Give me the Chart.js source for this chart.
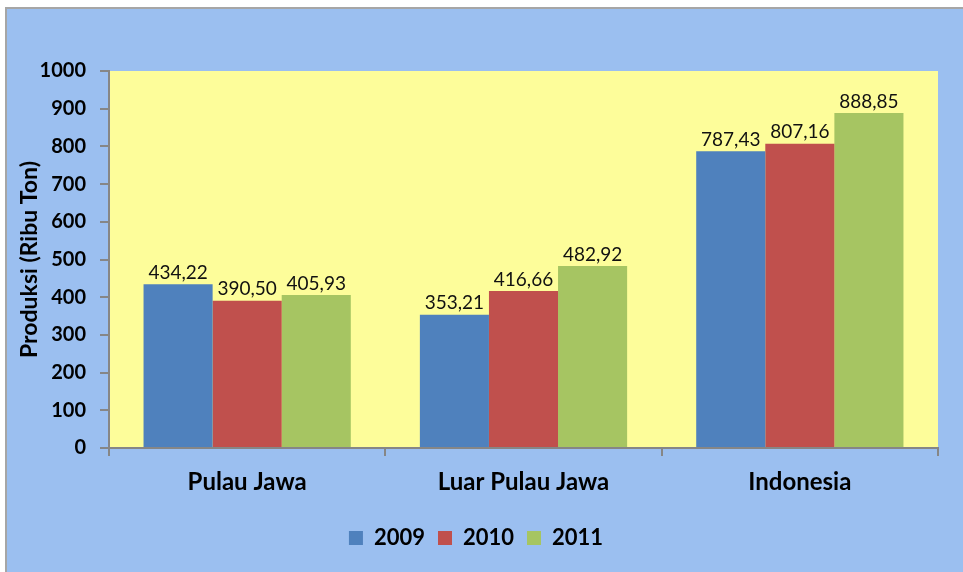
<!DOCTYPE html>
<html>
<head>
<meta charset="utf-8">
<script src="https://cdn.jsdelivr.net/npm/chart.js@4.4.1/dist/chart.umd.min.js"></script>
<style>
	html, body { margin: 0; padding: 0; background: #ffffff; }
	#wrap { position: relative; width: 963px; height: 572px; }
</style>
</head>
<body>
<div id="wrap"><canvas id="produksi" width="963" height="572"></canvas></div>
<script>
const regions = ['Pulau Jawa', 'Luar Pulau Jawa', 'Indonesia'];
const years = ['2009', '2010', '2011'];
const prod2009 = [434.22, 353.21, 787.43];
const prod2010 = [390.50, 416.66, 807.16];
const prod2011 = [405.93, 482.92, 888.85];
const yTicks = [0, 100, 200, 300, 400, 500, 600, 700, 800, 900, 1000];

const fontName = 'Lato, "Open Sans", sans-serif';
const axisGray = '#868686';

// blue background panel with its grey frame
const panelBg = {
	id: 'panelBg',
	beforeDraw: (chart) => {
		const ctx = chart.ctx;
		ctx.save();
		ctx.fillStyle = '#9BBFF0';
		ctx.fillRect(7, 9, chart.width - 7, chart.height - 9);
		ctx.strokeStyle = '#A6A6A6';
		ctx.lineWidth = 2;
		ctx.strokeRect(6, 8, chart.width + 10, chart.height + 10);
		const a = chart.chartArea;
		ctx.fillStyle = '#FDFD9A';
		ctx.fillRect(a.left, a.top, a.right - a.left, a.bottom - a.top);
		ctx.restore();
	},
};

// value labels on top of the bars, comma decimals
const barValues = {
	id: 'barValues',
	afterDatasetsDraw: (chart) => {
		const ctx = chart.ctx;
		ctx.save();
		ctx.font = '19px ' + fontName;
		ctx.fillStyle = '#111111';
		ctx.textAlign = 'center';
		ctx.textBaseline = 'bottom';
		chart.data.datasets.forEach((ds, i) => {
			chart.getDatasetMeta(i).data.forEach((bar, j) => {
				const txt = ds.data[j].toFixed(2).replace('.', ',');
				ctx.fillText(txt, bar.x, bar.y - 2);
			});
		});
		ctx.restore();
	},
};

const chart = new Chart(document.getElementById('produksi'), {
	type: 'bar',
	data: {
		labels: regions,
		datasets: [
			{ label: years[0], data: prod2009, backgroundColor: '#4F81BD' },
			{ label: years[1], data: prod2010, backgroundColor: '#C0504D' },
			{ label: years[2], data: prod2011, backgroundColor: '#A6C562' },
		],
	},
	options: {
		responsive: false,
		animation: false,
		layout: {
			padding: { left: 14, top: 71, right: 25, bottom: 13 },
		},
		datasets: {
			bar: {
				categoryPercentage: 0.75,
				barPercentage: 1.0,
				borderWidth: 0,
			},
		},
		scales: {
			x: {
				grid: {
					offset: true,
					drawOnChartArea: false,
					drawTicks: true,
					tickLength: 8,
					color: axisGray,
					lineWidth: 2,
				},
				border: { display: true, color: axisGray, width: 2 },
				ticks: {
					padding: 12,
					color: '#000000',
					font: { family: fontName, size: 24, weight: 'bold' },
				},
				afterFit: (scale) => {
					scale.height = 66;
				},
			},
			y: {
				min: 0,
				max: 1000,
				afterBuildTicks: (scale) => {
					scale.ticks = yTicks.map((v) => ({ value: v }));
				},
				grid: {
					drawOnChartArea: false,
					drawTicks: true,
					tickLength: 9,
					color: axisGray,
					lineWidth: 2,
				},
				border: { display: true, color: axisGray, width: 2 },
				ticks: {
					padding: 14,
					color: '#000000',
					callback: (v) => String(v),
					font: { family: fontName, size: 20, weight: 'bold' },
				},
				title: {
					display: true,
					text: 'Produksi (Ribu Ton)',
					color: '#000000',
					padding: { top: 2, bottom: 0 },
					font: { family: fontName, size: 23, weight: 'bold' },
				},
				afterFit: (scale) => {
					scale.width = 95;
				},
			},
		},
		plugins: {
			legend: {
				position: 'bottom',
				labels: {
					boxWidth: 14,
					boxHeight: 14,
					padding: 13,
					color: '#000000',
					font: { family: fontName, size: 22, weight: 'bold' },
				},
			},
			tooltip: { enabled: false },
		},
	},
	plugins: [panelBg, barValues],
});
</script>
</body>
</html>
